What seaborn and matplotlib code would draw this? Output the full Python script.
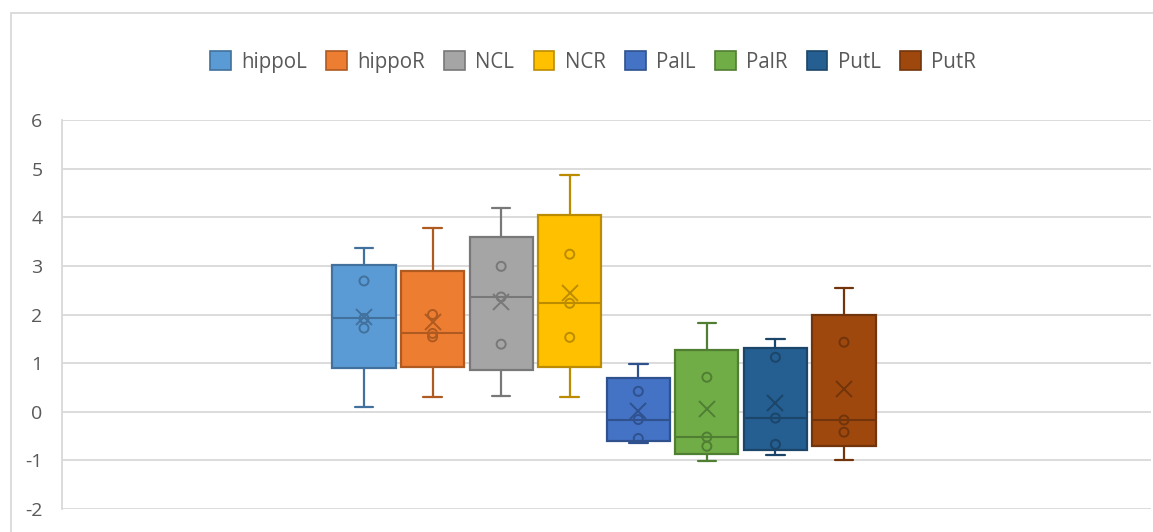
import numpy as np
import pandas as pd
import matplotlib
matplotlib.use("Agg")
import matplotlib.pyplot as plt
from matplotlib.patches import Patch, Rectangle
import seaborn as sns

# values (5 samples per region)
regions = ["hippoL", "hippoR", "NCL", "NCR", "PalL", "PalR", "PutL", "PutR"]
hippoL = [0.09, 1.72, 1.92, 2.69, 3.36]
hippoR = [0.30, 1.54, 1.61, 2.00, 3.77]
NCL = [0.32, 1.39, 2.36, 2.99, 4.18]
NCR = [0.30, 1.53, 2.23, 3.24, 4.87]
PalL = [-0.65, -0.55, -0.16, 0.42, 0.98]
PalR = [-1.02, -0.71, -0.52, 0.71, 1.82]
PutL = [-0.89, -0.67, -0.13, 1.12, 1.49]
PutR = [-1.00, -0.42, -0.17, 1.43, 2.54]
series = [hippoL, hippoR, NCL, NCR, PalL, PalR, PutL, PutR]

fills = ["#5B9BD5", "#ED7D31", "#A5A5A5", "#FFC000",
         "#4472C4", "#70AD47", "#255E91", "#9E480E"]
edges = ["#41719C", "#AE5A21", "#787878", "#BC8C00",
         "#2F528F", "#507E32", "#1B4569", "#72340A"]

df = pd.DataFrame({"region": np.repeat(regions, [len(s) for s in series]),
                   "value": np.concatenate(series)})

sns.set_theme(style="white")
plt.rcParams["font.family"] = ["Open Sans", "DejaVu Sans"]
plt.rcParams["axes.unicode_minus"] = False

fig = plt.figure(figsize=(11.53, 5.32), dpi=100)
W, H = 1153, 532
# chart frame (Excel chart area border, cut off at right/bottom)
fig.patches.append(Rectangle((11 / W, -0.2), 1.5, 1 - 13 / H + 0.2,
                             transform=fig.transFigure, fill=False,
                             edgecolor="#D9D9D9", lw=1.3))

ax = fig.add_axes([62 / W, 1 - 509 / H, (1151 - 62) / W, (509 - 120) / H])

# Excel uses exclusive quartiles -> weibull percentiles
stats = []
for name, vals in zip(regions, series):
    v = np.asarray(vals)
    q1, med, q3 = np.percentile(v, [25, 50, 75], method="weibull")
    stats.append(dict(label=name, med=med, q1=q1, q3=q3,
                      whislo=v.min(), whishi=v.max(), fliers=[], mean=v.mean()))

pos = np.arange(len(regions))
bp = ax.bxp(stats, positions=pos, widths=0.92, patch_artist=True,
            showfliers=False, showmeans=False, capwidths=0.27, zorder=2)
for i in range(len(regions)):
    bp["boxes"][i].set(facecolor=fills[i], edgecolor=edges[i], lw=1.6)
    bp["medians"][i].set(color=edges[i], lw=1.5)
    for ln in bp["whiskers"][2 * i:2 * i + 2] + bp["caps"][2 * i:2 * i + 2]:
        ln.set(color=edges[i], lw=1.6)

# inner points (between the whisker ends)
inner = df[df.groupby("region")["value"].transform(
    lambda s: (s > s.min()) & (s < s.max()))]
n0 = len(ax.collections)
sns.stripplot(data=inner, x="region", y="value", hue="region", order=regions,
              hue_order=regions, palette=edges, jitter=False, size=6.5,
              linewidth=0, legend=False, zorder=4, ax=ax)
for coll in ax.collections[n0:]:
    fc = coll.get_facecolor()
    coll.set_facecolor("none")
    coll.set_edgecolor(fc)
    coll.set_linewidth(1.4)

# mean markers
for i, name in enumerate(regions):
    sub = df[df.region == name]
    sns.pointplot(data=sub, x=np.full(len(sub), pos[i]), y="value",
                  native_scale=True, estimator="mean", errorbar=None,
                  color=edges[i], markers="x", linestyles="none",
                  markersize=12, markeredgewidth=1.4, zorder=5, ax=ax)

ax.set_xlim(3.5 - 542 / 68.57, 3.5 + 547 / 68.57)
ax.set_ylim(-2, 6)
ax.set_yticks(range(-2, 7))
ax.set_xticks([])
ax.set_xlabel("")
ax.set_ylabel("")
ax.grid(axis="y", color="#D9D9D9", lw=1.3)
ax.set_axisbelow(True)
for s in ["top", "right", "bottom"]:
    ax.spines[s].set_visible(False)
ax.spines["left"].set_color("#D9D9D9")
ax.spines["left"].set_linewidth(1.3)
ax.tick_params(axis="y", length=0, pad=14, labelsize=14, labelcolor="#595959")

handles = [Patch(facecolor=f, edgecolor=e, lw=1.2) for f, e in zip(fills, edges)]
fig.legend(handles, regions, loc="center", bbox_to_anchor=(593 / W, 1 - 62 / H),
           ncol=8, frameon=False, fontsize=14.8, labelcolor="#595959",
           handlelength=1.0, handleheight=1.0, handletextpad=0.5,
           columnspacing=0.95)

fig.savefig("out.png", dpi=100, facecolor="white")
